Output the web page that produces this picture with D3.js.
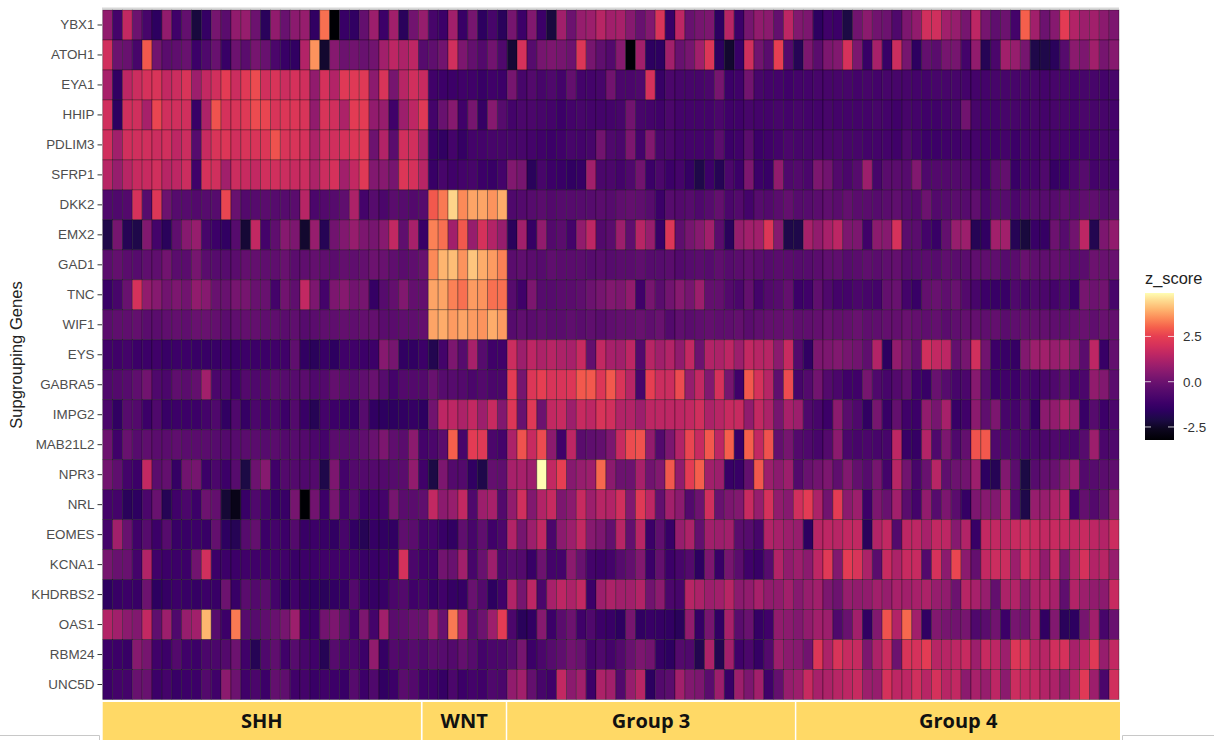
<!DOCTYPE html>
<html>
<head>
<meta charset="utf-8">
<script src="https://cdn.jsdelivr.net/npm/d3@7"></script>
<style>
  body { margin: 0; background: #fff; }
  svg { display: block; }
</style>
</head>
<body>
<div id="chart"></div>
<script>
var genes = ["YBX1", "ATOH1", "EYA1", "HHIP", "PDLIM3", "SFRP1", "DKK2", "EMX2", "GAD1", "TNC", "WIF1", "EYS",
  "GABRA5", "IMPG2", "MAB21L2", "NPR3", "NRL", "EOMES", "KCNA1", "KHDRBS2", "OAS1", "RBM24", "UNC5D"];

// z scores, one array per gene: 33 SHH, 8 WNT, 29 Group 3, 33 Group 4
var YBX1 = [.7,-1,1.6,0,-.9,-1.6,.7,-1.1,-.2,-2.2,-1.4,.2,-.4,.7,.8,0,-1.7,.7,-.1,.6,.8,-1.5,3.2,-3.3,-1.3,-1.5,-.2,.9,-1.2,1,-1.7,.1,.8,
  -.9,-1.2,1,-1.3,.2,-1.6,-.9,-1.7,
  .2,-1.2,.4,-1.2,-2.2,1,0,.8,.9,1.4,1,1.1,.5,-.1,.4,2.1,-1.3,1.5,-.1,.2,.3,-1.6,1.4,-1.2,.2,.7,.6,-.2,
  1.5,.4,.3,-1.6,-1.1,-1.2,-2.1,.1,.6,.1,0,-.7,.3,.7,1.9,1.9,1,.8,.2,1.5,.2,-.3,0,-1,3,1,0,.5,2.4,1.3,.9,1,.6,.3];
var ATOH1 = [1.9,0,-.1,-.9,2.9,.1,-.4,-.3,-.1,-1.2,-.7,-.1,-1.3,0,-.4,.2,-.1,-.8,-1.3,-1.5,1.3,3.6,-2.4,.5,0,.1,-.1,.1,1,1.5,1.2,1.5,-.5,
  -.3,.1,1.9,.3,-.2,-.6,.1,-.7,
  -2.3,2,-.5,.2,.3,.2,0,2.2,.2,-.3,-.6,.5,-3.2,1,-1.6,-1.6,1,-.1,.2,1,2.2,-1.6,-2.4,-1.3,1.9,.1,-.4,2.5,
  -.6,-1.8,.3,-.4,.3,.4,2,.3,-1.3,1.1,-1.3,1.8,.2,-1.6,-.2,-.4,.2,.2,-1,.7,-1.8,-.8,1,.8,.2,-2,-2,-1.7,-.5,.6,.3,1,.2,.5];
var EYA1 = [1.1,-1.5,1.5,1.8,2,2.1,1.6,1.8,2.1,.9,1.6,1.9,2.4,1.8,2.3,2.7,1.9,2.1,1.8,2,1.9,.7,2,1.3,2.3,2.3,2.3,.6,2.1,.2,1.4,1.9,1.7,
  -1.1,-1.2,-1.2,-1.1,-1.1,-1.3,-1.1,-1.2,
  .2,-.9,-.6,-.9,-.7,-1,-.2,-1,-1,-.9,.1,-.8,-.8,-.7,2,-1.3,-.8,-.9,-.9,-.9,-.8,.2,-1.2,-1.1,.1,-.9,-1,-1,
  -1.1,-1,-1,-.9,-.9,-.9,-.9,-1,-.9,-1,-.9,-.9,-.9,-1,-1,-.9,-.9,-.9,-1,-1,-1,-.9,-.9,-.9,-.9,-.9,-1,-.9,-.9,-1,-.9,-.9,-1,-.9];
var HHIP = [1.9,-1.6,1.9,1.9,1.1,2.6,1.9,1.9,1.9,-1.3,1.2,2.8,2,2.1,2.3,2.7,2.6,2.1,2.2,2.2,2.1,.7,2.1,1.9,1.2,2.4,2.4,.7,.8,-1.1,.9,1.5,2.3,
  -1,-.1,.5,-1.1,.2,-1.4,.5,-.5,
  -1,-.8,-.8,-.9,-1,-1.2,-1,-.9,-1,-1,-1,-.9,.1,-.9,-1,-1.1,-.8,-1,-1,-1,-1,-.8,-1.1,-1.1,-.9,-1,-1,
  -.9,-1,-.9,-1,-1,-.9,-1,-1,-1,-1,-.9,-1,-1.1,-.9,-1,-1.1,-1.1,-1,-.9,.1,-.9,-1,-1,-.9,-.9,-1,-.9,-1,-.9,-.9,-1,-.8,-.9,-.9,-1];
var PDLIM3 = [1.9,1,1.9,1.9,1.9,1.8,1.9,1.5,1.8,-.5,1.7,2.1,2.2,1.9,2.1,2.1,2.2,2.8,2.1,2.1,2,1.2,1.9,1.9,2,2.2,2.3,0,1.3,-.4,1.9,1.9,1.2,
  -1.3,-1.5,-1,-1.4,-1,-1,-.9,-.9,
  -.9,-.9,-1,-1.1,-1.2,-1.1,-.9,-1,-.9,.1,-.7,-.8,.3,-1,.4,-.9,-.8,-1,-1,-1,-1,-.4,-1.2,-1.1,-.4,-1.2,-1.1,
  -1,-.8,-.9,-.9,-.8,-.8,-.8,-.9,-.9,-1,-1,-1,-1.1,-.7,-1,-1.2,-1.2,-1.1,-1.1,-1,-1,-1.1,-1.1,-1,-1.2,-1,-1,-.9,-1,-1,-1.1,-1,-1,-.9,-1];
var SFRP1 = [1.4,.8,1.4,1.7,1.7,1.9,1.4,1.5,1.8,-1.1,2,1.9,1,1.8,1.7,1.6,1.9,1.9,1.8,1.7,1.8,1.2,1.8,2,1,1.6,2.3,.4,.5,.2,2.2,2,1.4,
  -1.3,-.9,-1.1,-1,-.9,-1.2,-1.3,-1,
  .4,.2,-1.7,-.9,-1.2,-1.3,-1.5,-1.4,1,-.8,-.8,-1,-.7,.1,-1.2,-.8,-1.2,-1,-1.4,-2,-1.2,-1.8,-.8,-1.2,.3,-1.2,-1.3,
  .7,-.7,-.6,-.8,.3,.1,-.6,-.8,-.5,.9,-.9,-.4,-.4,-.5,.4,-.7,-.6,-.6,-.6,-.6,-.8,-1.1,-.4,-.2,-1.3,-1,-1,-.7,-1.4,-1.2,-.8,-.5,-1,-.9,-1];
var DKK2 = [-.7,-.7,-.6,2,-.5,2.2,0,-.5,-.5,-.6,-.5,-.5,2.6,-.1,-.6,-.5,-.4,-.5,-.5,-.4,1.4,-.8,-.6,-.5,-.3,1.2,-1,-.5,-.8,-.4,-.5,-.6,-.5,
  2.9,3.3,4.4,3.5,3.8,3.8,3.6,3.9,
  -.7,-.6,-.5,-.4,-.6,-.5,-.5,-.5,-.5,-.4,-.5,-.3,-.2,-.3,-.5,-1.2,-.5,-.6,-.5,-.7,-.5,-.2,-.8,-.6,-1,-.5,-.6,-.4,-.2,
  -.5,-.5,-.4,-.3,-.4,-.2,-.4,-.4,-.5,-.4,-.3,-.5,-.6,0,-.6,-.5,-.4,-.5,-.3,-.8,-.5,-.5,-.8,-.6,-.5,-.5,-.5,-.3,-.5,-.3,-.3,-.5,-.4];
var EMX2 = [-2,.2,-1.8,-2,.4,-1,-1.7,-.3,.5,.8,-.9,-1.2,-1.5,-.5,-2.3,1.6,-1,-.3,.5,.3,-2.4,.8,-1.8,.1,.4,.8,.3,.2,.5,1.6,-.3,1.1,-1.3,
  3.4,3.2,1,2.9,.8,2,1.3,.8,
  -1.7,1,-1.4,.7,-.6,-.4,-1,.7,1.5,-.6,-.4,.9,-.3,1.4,.8,-1.3,2.2,-.3,.2,.5,1,-.4,-1.7,.8,1,1,2.2,.5,-2,
  -2,1.1,.7,1.1,1.5,.3,.3,-1.1,.6,.5,2,-.4,-.4,-1,-1.3,-.2,.8,.9,-1.8,-1.5,1,1,-1.8,-2.2,-1.3,-1.4,0,-.5,.1,1.5,-1.9,.3,.7];
var GAD1 = [-.4,-.2,-.4,-.5,-.3,-.3,.1,-.4,-.4,.2,-.4,-.5,-.5,-.4,-.2,-.2,-.3,-.3,-.1,-.4,-.3,-.2,-.3,-.4,-.2,-.3,-.2,0,-.1,-.3,-.4,-.3,-.1,
  3.5,4,4.1,3.6,4.2,3.9,3.7,3.4,
  -.4,-.3,-.4,-.5,-.3,-.4,-.4,-.4,-.5,-.4,-.5,-.4,-.4,-.3,-.5,-.5,-.4,-.6,-.5,-.4,-.5,-.3,-.5,-.4,-.3,-.4,-.5,-.4,-.4,
  -.5,-.5,-.4,-.3,-.3,-.5,-.4,-.3,-.4,-.3,-.2,-.5,-.5,-.4,-.5,-.3,-.4,-.4,-.3,-.3,-.3,-.5,-.4,-.1,-.3,-.3,-.2,-.3,-.5,-.4,0,-.1,-.1];
var TNC = [-1.3,-.9,-.1,2,.7,.5,.1,.3,.1,.7,.5,-.1,-.1,.2,.2,-.1,-.1,-1,.1,-.3,1.6,.3,-1,.3,.5,.1,.2,-1.4,-.5,-.2,.4,-.2,-.2,
  3.8,3.8,3.4,3.2,3.7,3.6,3.2,3.2,
  -.5,-1.1,.3,-.5,-.5,-.4,-.4,-.3,0,.2,.4,.3,.7,-1.1,.2,-.4,.1,.5,.2,.9,-.2,-.2,-.6,-.8,-.2,-1,-.6,-.5,-.2,
  -1.2,-1.1,-.3,-.7,-1,-1,-.8,-.9,-1,-.2,-.1,-1,-1.3,-.2,-.1,-.3,-.1,-.6,-.9,-1.2,-1.3,-1.3,-.7,-.9,-.7,-.8,-1,-.7,-1.3,.2,0,.1,-.9];
var WIF1 = [-.4,-.3,-.3,-.2,-.4,-.4,-.3,-.2,-.3,-.1,-.1,-.2,-.4,-.3,-.2,-.2,-.3,-.3,-.4,-.3,-.5,-.4,-.3,-.3,-.2,-.3,-.2,-.2,-.4,-.4,-.3,-.3,-.2,
  3.8,3.9,3.7,3.8,3.7,3.6,3.9,3.7,
  -.5,-.3,-.4,-.3,-.4,-.4,-.3,-.4,-.3,-.4,-.3,-.2,-.2,-.1,-.3,-.1,-.6,-.3,-.4,-.3,-.2,-.3,-.3,-.2,-.4,-.3,-.2,-.2,-.1,
  -.3,-.3,-.2,-.1,-.2,-.2,-.1,-.3,-.3,-.2,-.2,-.1,-.2,-.3,-.2,-.4,-.3,-.2,-.2,-.3,-.2,-.4,-.3,-.2,-.2,-.2,-.3,-.3,-.2,-.1,-.3,-.1,-.2];
var EYS = [-1.1,-1.1,-1,-1.2,-1.2,-1.1,-1.3,-1.2,-1.2,-1.3,-1.3,-1.3,-1.2,-1.3,-1.2,-1.2,-1.2,-1.1,-1.1,-.3,-1.5,-1.7,-1.3,-1.6,-1.1,-1.1,-1.2,-1.2,.5,.2,-1.5,-1.5,-1.2,
  -1.9,-1,.3,-.5,1.1,-.5,-1.1,-1.1,
  1.8,.9,1.5,1.2,1.4,1.2,1.1,1.7,-.2,1.6,1.1,1,1.5,-.6,1.4,1,1.3,.7,1.6,0,1.3,1.2,1.5,.9,1.6,1.4,1.4,.6,1.7,
  -.6,-1.5,.3,.3,.4,.2,.1,-.3,1.3,-1.6,.7,.2,-.3,1.9,1.6,1.5,-.2,.2,1.9,.1,-1.2,-1.3,-1.4,.4,.9,1,.8,1,.5,-.4,1.5,-1.3,-.2];
var GABRA5 = [-.7,-.6,-.5,-.3,.1,-.7,-.8,-.3,-.4,-.2,1,-.8,-.7,-1.1,-.6,-.7,-.6,-.4,-.5,-.5,-.4,-.7,-.6,-.2,-.4,-.5,-.3,-.1,-.5,-1,-.6,-.6,-.6,
  -.1,-.5,-.5,-.6,-.8,-.6,-.8,-.8,
  2.4,.2,2.2,2.5,2.1,2.1,2.2,2.9,2.9,2.2,2.9,2.1,1.4,-.9,2.5,1.8,1.8,2.7,.8,1.6,.4,2,.2,-1.1,2.9,2,1.4,-.3,2.7,
  -.9,-.6,.1,-.6,-.8,-1.1,-1.1,.2,-.7,-.9,-.6,-.3,-1.1,-1.3,-.1,-.5,-.9,-.8,.5,-.5,-1.2,-1.1,-1.2,-.8,-1,-.8,-.7,-.3,-1,-.8,.7,.4,-.4];
var IMPG2 = [-.8,-1.5,-.5,-.6,-1.2,-.7,-1.3,-1.2,-1.2,-1.2,-1,-.7,-1.5,-.7,-1.4,-.8,-1,-.8,-1.2,-.6,-1.3,-1.8,-1,-1.2,-1.3,-1.4,-.5,-1.5,-1.6,-1.6,-1.5,-1.4,-1.6,
  .1,1.5,1.5,1.2,1.6,.9,1.7,.4,
  2.2,-.1,2.3,0,1.6,1.7,.9,1.7,1.5,2.1,1.9,1.3,1.3,.9,1.5,1.5,1.5,1.5,1.6,1.9,1.2,1.4,1.7,1.7,.7,1.6,1.2,.2,1.1,
  .9,-.7,-.9,-1.2,.6,-.4,-.7,-1.5,.2,-1.3,-.2,-1.1,-1.2,.7,.2,1.1,-1.3,-1.1,.6,-.3,.3,-.9,-1,-.5,-1.5,.6,.7,1.2,.8,-1.3,-.5,-1.2,-.8];
var MAB21L2 = [0,-1.1,-.1,-.5,-.3,-.4,-.4,-.3,-.4,-.4,-.4,-.5,-.6,-.5,-.4,-.4,-.5,-.4,-.6,-.5,-.6,-.8,-1,-.4,-.5,-.5,-.3,-.1,.3,-.3,-.4,.6,-1,
  -.8,-.4,3,-.9,2.4,2.3,-.8,-1,
  1.2,2.8,1.7,2.7,.6,-1.1,1.5,-.4,-.3,-.2,.3,1.7,2.7,2.8,.7,-.6,.3,1.3,2.6,1.7,2.9,1.5,3,-1.3,3,1.6,2.8,-.2,.2,
  -.6,-.7,-.9,-.6,.6,-.8,-.9,-.8,-.9,-.9,1.5,-1.3,-1.4,1.3,-.7,.3,-.7,-.2,2.8,2.9,-.7,-.7,-.7,-.9,-.8,-.8,-.7,-.8,-.9,-.5,.9,-.8,-.7];
var NPR3 = [.1,-.3,-1,-1.2,1.6,-.4,-.2,-1.4,.1,.2,-1.2,-.8,-1.2,-.5,-2.1,0,.5,-1.1,-.6,-.6,-.7,-.6,-2,.3,-1,-.6,-.6,-.6,-.6,-.5,-.4,.7,-1.1,
  -2.1,.3,-.6,-.6,-1.5,-2,-.2,-.3,
  1.1,1.1,.9,4.9,1.6,2.5,.5,.8,.9,3.1,.6,0,0,1.1,.1,.4,2.9,.7,2.4,3,1,.9,-1.3,-1.3,-.2,2.9,.9,.6,.9,
  -.6,-.1,.1,.3,-.3,.4,-.2,-.5,.2,-1,1.4,.1,-.9,-.1,1.4,-.3,0,.1,.9,-1.6,-1.8,.4,-.4,-2.1,-.5,-.2,-.1,.4,.9,-.6,-.5,-.4,-.3];
var NRL = [-1,-1,-1.7,-1.6,-.8,-.1,-1.8,-1.1,-.8,-1.2,0,-.2,-2.3,-2.8,-1.3,-.7,-1,-1.4,-1.3,.2,-3.3,.1,-1.2,.2,-1,-.5,-1.2,-1.1,-1,.2,-.4,-.4,-.3,
  1.6,.6,.8,1.6,-.7,.9,1.1,-.6,
  .7,1.9,.4,1.3,1.7,.3,.6,1.7,.9,1.4,1.3,1.9,.4,2.3,1.5,-.2,1,.6,-.6,0,1.9,-.1,.3,.4,1.7,.8,2,.7,.5,
  1.9,2.4,1.2,.1,2.4,.6,.9,-1.2,.3,-.1,1,-.4,-1,.7,-.5,.3,-.4,-1.4,.3,.5,.4,1.2,-.6,-2,.8,.8,1.2,1.6,-1.1,-.2,-.6,-.2,.6];
var EOMES = [-1,1,-.1,-1.1,-.5,-1.2,-.5,-1.3,-1.3,-1.2,-1.3,-.2,-1.6,-1.8,-.5,-.2,-1.2,-1,-1.2,-.6,-1.3,-1.2,-1.3,-1.5,-.9,-1.5,-1.8,-1.4,-1.5,-1.5,-.3,-.4,-1,
  -1,-1.3,-1.5,-.3,-.9,-.3,-1.1,-.8,
  1.3,.2,.9,1.6,-.8,.6,.9,1.6,.5,.3,-.2,1.4,-.2,1.4,-1.2,-.3,-1.3,.8,1.2,-.2,1,.9,1,-.4,-.5,-.9,1.3,1.1,.9,
  .8,-1.6,1.4,1.5,1.4,1.6,1.6,-1.7,1.3,1.6,-.6,1.5,1.5,1.1,1.6,1.5,.5,1.3,-1.3,1.6,1.6,1.5,1.7,1.8,1.7,1.6,1.7,1.7,1.6,1.7,1.5,1.3,1.8];
var KCNA1 = [.2,-.1,-.1,-1,1.3,-1.1,-1.2,-1.2,-1.2,.1,1.9,-1.2,-1.2,-1.2,-1.1,-1.1,-1.1,-1.1,-1.1,-1.3,-1.2,-1.2,-1.1,-1.1,-1.1,-1.1,-1.3,-1.3,-1.2,-1.2,2,-.8,-1.1,
  -1.1,.1,-.1,1,-.9,-.1,.9,-.8,
  -.5,-.6,-1.3,0,-1,-1,.6,-.1,-1,-1.1,-1,-.5,-.2,.4,-1.2,-.2,-1.2,-.9,-.6,-1.6,.3,-1.3,.2,-.4,-1.1,-1.3,-.5,1.3,.7,
  .9,.6,1.5,2.3,.4,2.4,2.1,1.2,-.4,1.7,1.2,1.7,1.7,-.6,2,.6,2.6,.6,-.2,1.6,1.8,1.8,.9,1.9,1.5,.7,1.8,.3,1.4,2,1.3,1.4,.8];
var KHDRBS2 = [-1.6,-1.3,-1.2,-1.3,0,-1.6,-1.4,-1.2,-1.3,-1.4,-1.2,-1.3,0,-1.3,-.4,-.6,-.4,-1,-1.6,-1.1,-1.5,-1.6,-1.7,-1.5,-1.4,-.6,-1.3,-1.4,-1.3,-.8,-.6,-1.1,-1,
  -1.4,-1.1,-1.4,-1.4,-.1,-.6,-1.6,-1.1,
  1.3,.2,1.5,-.8,1.1,1.5,1.2,1.6,-1.2,.9,1.2,1,1,1.3,.1,.6,-.8,-.9,1.4,1.2,.9,1,1.4,.6,.7,1.1,.7,.7,1,
  .5,.8,1,.3,0,.8,.7,.7,1,.8,1.1,1,1.1,1.2,.8,.7,0,1.4,1.1,.8,-.2,1.2,1.3,.6,1.2,1.3,1.1,-.3,1.3,.9,.7,.6,1.7];
var OAS1 = [1.3,1,.6,.4,1.6,-.3,.9,-.7,.8,1,4,-.5,-1.2,3.3,-.5,-.5,-.3,-.1,.2,.9,-1.2,-1.3,.1,.3,-.3,-1.1,.3,-1,1,-.4,-.3,-.1,-.1,
  .9,-.1,3.3,1.3,-.5,0,.9,2.4,
  -.8,-1.7,-1.5,.5,-1.2,-.4,0,-1.1,-.7,-1.2,-1.3,-1.6,.2,-1.5,-1.3,-1.4,-1.5,-1.7,.7,-1.4,.2,-1.5,1.1,-.4,-.1,-1.4,-1.1,.7,.6,
  .4,.7,1,.9,-.7,-.1,1,-1.5,.4,2.8,1.3,3.1,1,-1.5,.4,.2,.1,.2,-.7,-.4,.1,-1.2,.2,.1,1,-1.5,.4,-1.7,-1.6,.2,1,-.9,-.1];
var RBM24 = [-1.2,-1.2,-1.3,.5,.2,-1.1,-1.2,-.6,-1.1,-1.2,-.8,-.8,-.6,0,-1.1,-1.8,-.7,-.3,-1.1,-.5,-.9,-1.1,-1.8,-.5,-.9,-.8,-1.2,.7,-1.4,-.6,-.7,-.5,-.7,
  -.4,-.5,-.6,-.2,-.5,-1,-.8,-.8,
  -.5,.2,-1.2,-.8,-.5,-.3,.1,-.1,-1,-.7,-1,-.6,-.1,.3,.1,-1.4,-1.6,-.6,-.7,-1.9,1.2,-1.9,1,-1.1,-.8,-1.4,-.6,.9,.6,
  .5,.1,2.2,1.2,2.1,1.7,1.7,.3,1.2,1.8,0,2.1,2,2.4,1.4,1.4,1.5,1.7,.9,1.7,1.5,.9,2.2,2.1,1.4,1.4,1.9,2,1.1,1.5,2.3,.8,1.6];
var UNC5D = [-1.2,-1,-1,-.1,-.1,-1.2,-1,-1.3,-1.2,-1.2,-.6,-1.1,.6,0,-1.1,-.8,-1.2,-.2,-.3,-1.1,-1,-1.3,-1.1,-1.2,-1.3,-.5,-1.2,-.7,-1.5,-1.2,-.4,-.6,-1.1,
  -1.1,-1.4,-.8,-1.2,-1,-1.1,-.7,-.8,
  .7,1,-.2,-.9,-1.1,1.6,.6,1,-1.2,1.2,1,-.6,.8,1.4,-1.6,-.6,-.4,1,.4,.3,-.4,.9,-1.3,.9,.3,1,-1.1,-.2,.8,
  .9,1.7,1.1,1.2,1.4,1.5,1.7,.9,.8,2,1.5,1.5,1.9,1.4,2,1.4,1.6,.6,1.1,.8,1.5,.6,1.8,1.6,1.6,1.3,1.2,.7,1.3,2.3,.9,-.8,1.9];

var zScores = [YBX1, ATOH1, EYA1, HHIP, PDLIM3, SFRP1, DKK2, EMX2, GAD1, TNC, WIF1, EYS,
  GABRA5, IMPG2, MAB21L2, NPR3, NRL, EOMES, KCNA1, KHDRBS2, OAS1, RBM24, UNC5D];

var groupNames = ["SHH", "WNT", "Group 3", "Group 4"];
// where the yellow header boxes start and stop, in sample columns
var groupStarts = [0, 32.42, 41, 70.3];
var groupEnds = [32.25, 40.85, 70.15, 103.1];

var legendTicks = [-2.5, 0, 2.5];
var colorStops = [-3.3, -2.6, -2.1, -1.6, -1.2, -0.8, -0.4, 0, 0.5, 1, 1.5, 2, 2.5, 3, 3.5, 4, 4.5, 4.9];
var colorRamp = ["#000004", "#0d0620", "#1c0a45", "#2d0060", "#3c0068", "#4b066b", "#5a0c6d", "#6c126f", "#86196f",
  "#a11f6b", "#bd2664", "#d5315b", "#e63e52", "#f55f4c", "#fc8a58", "#feb56f", "#fedc91", "#fffdb3"];

var svgWidth = 1214;
var svgHeight = 740;

var svg = d3.select("#chart")
  .append("svg")
  .attr("width", svgWidth)
  .attr("height", svgHeight);

var xScale = d3.scaleLinear().domain([0, 103]).range([102.7, 1119]);
var yScale = d3.scaleBand().domain(genes).range([10, 699.5]);
var colorScale = d3.scaleLinear().domain(colorStops).range(colorRamp);

// faint line along the top of the panel
svg.append("line")
  .attr("x1", 102).attr("x2", 1119)
  .attr("y1", 8.5).attr("y2", 8.5)
  .attr("stroke", "#d8d8d8")
  .attr("stroke-width", 2);

var cells = [];
zScores.forEach(function(row, i) {
  row.forEach(function(z, j) {
    cells.push({gene: genes[i], col: j, z: z});
  });
});

// the reference is a slightly soft screenshot
svg.append("g")
  .style("filter", "blur(0.35px)")
  .selectAll("rect")
  .data(cells)
  .enter()
  .append("rect")
  .attr("x", d => xScale(d.col))
  .attr("y", d => yScale(d.gene))
  .attr("width", xScale(1) - xScale(0))
  .attr("height", yScale.bandwidth())
  .attr("fill", d => colorScale(d.z))
  .attr("stroke", "#000")
  .attr("stroke-opacity", 0.38)
  .attr("stroke-width", 0.8);

var yAxis = d3.axisLeft(yScale).tickSize(4.5).tickPadding(3);
var yAxisGroup = svg.append("g")
  .attr("transform", "translate(102,0)")
  .call(yAxis);
yAxisGroup.select(".domain").remove();
yAxisGroup.selectAll("line").attr("stroke", "#333");
yAxisGroup.selectAll("text")
  .attr("fill", "#4d4d4d")
  .style("font-family", "'Liberation Sans', Arial, sans-serif")
  .style("font-size", "13.4px");

svg.append("text")
  .attr("transform", "translate(22,355) rotate(-90)")
  .attr("text-anchor", "middle")
  .attr("fill", "#222")
  .style("font-family", "'Liberation Sans', Arial, sans-serif")
  .style("font-size", "16.6px")
  .text("Supgrouping Genes");

// group header boxes under the heatmap
svg.append("g").selectAll("rect")
  .data(groupNames)
  .enter()
  .append("rect")
  .attr("x", (d, i) => xScale(groupStarts[i]))
  .attr("y", 702)
  .attr("width", (d, i) => xScale(groupEnds[i]) - xScale(groupStarts[i]))
  .attr("height", 38)
  .attr("fill", "#ffd966");

svg.append("g").selectAll("text")
  .data(groupNames)
  .enter()
  .append("text")
  .attr("x", (d, i) => xScale((groupStarts[i] + groupEnds[i]) / 2))
  .attr("y", 728)
  .attr("text-anchor", "middle")
  .attr("fill", "#111")
  .style("font-family", "'Open Sans', 'Noto Sans', sans-serif")
  .style("font-weight", 700)
  .style("font-size", "20px")
  .text(d => d);

// stray frame corners at the bottom of the screenshot
svg.append("path")
  .attr("d", "M0,735.5H99.5V740M1122.5,740V735.5H1214")
  .attr("fill", "none")
  .attr("stroke", "#c8c8c8");

// colour bar legend
var legendScale = d3.scaleLinear().domain([-3.22, 4.9]).range([440, 293]);

var gradient = svg.append("defs").append("linearGradient")
  .attr("id", "zGradient")
  .attr("x1", 0).attr("x2", 0)
  .attr("y1", 1).attr("y2", 0);

gradient.selectAll("stop")
  .data(colorStops)
  .enter()
  .append("stop")
  .attr("offset", d => Math.max(0, (d + 3.22) / 8.12))
  .attr("stop-color", d => colorScale(d));

svg.append("rect")
  .attr("x", 1145)
  .attr("y", 293)
  .attr("width", 29)
  .attr("height", 147)
  .attr("fill", "url(#zGradient)");

svg.append("g").selectAll("path")
  .data(legendTicks)
  .enter()
  .append("path")
  .attr("d", d => `M1145,${legendScale(d)}h6M1168,${legendScale(d)}h6`)
  .attr("stroke", "#fff")
  .attr("stroke-opacity", 0.75);

var legendAxis = d3.axisRight(legendScale)
  .tickValues(legendTicks)
  .tickSize(0)
  .tickPadding(0)
  .tickFormat(d3.format(".1f"));

var legendGroup = svg.append("g")
  .attr("transform", "translate(1183,0)")
  .call(legendAxis);
legendGroup.select(".domain").remove();
legendGroup.selectAll("text")
  .attr("fill", "#333")
  .style("font-family", "'Liberation Sans', Arial, sans-serif")
  .style("font-size", "13.4px")
  .text(d => d3.format(".1f")(d).replace("−", "-"));

svg.append("text")
  .attr("x", 1145)
  .attr("y", 284)
  .attr("fill", "#222")
  .style("font-family", "'Liberation Sans', Arial, sans-serif")
  .style("font-size", "16.4px")
  .text("z_score");
</script>
</body>
</html>
